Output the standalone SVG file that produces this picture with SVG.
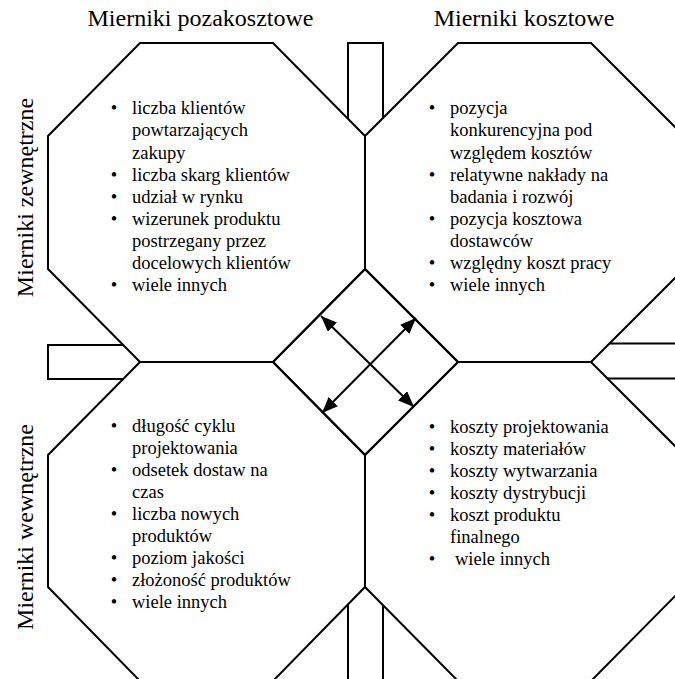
<svg xmlns="http://www.w3.org/2000/svg" width="675" height="679" viewBox="0 0 675 679">
<style>
  .shape { fill: none; stroke: #000; stroke-width: 2; stroke-linejoin: miter; }
  .title { font-family: "Liberation Serif", "Times New Roman", serif; font-size: 24px; fill: #000; text-anchor: middle; }
  .item { font-family: "Liberation Serif", "Times New Roman", serif; font-size: 18.5px; fill: #000; }
  .bul { font-family: "Liberation Serif", "Times New Roman", serif; font-size: 18.5px; fill: #000; text-anchor: middle; }
  .arrow { fill: none; stroke: #000; stroke-width: 2; marker-start: url(#head); marker-end: url(#head); }
</style>
<defs>
  <marker id="head" viewBox="0 0 16 13" refX="16" refY="6.5" markerWidth="16" markerHeight="13" markerUnits="userSpaceOnUse" orient="auto-start-reverse">
    <path d="M0,0 L16,6.5 L0,13 z" fill="#000"/>
  </marker>
</defs>
<rect width="675" height="679" fill="#fff"/>

<text class="title" x="200.5" y="26">Mierniki pozakosztowe</text>
<text class="title" x="524" y="26">Mierniki kosztowe</text>
<text class="title" transform="translate(33,197.5) rotate(-90)">Mierniki zewnętrzne</text>
<text class="title" transform="translate(33,527) rotate(-90)">Mierniki wewnętrzne</text>

<g id="tabs">
  <path class="shape" d="M348,118.8 L348,43 L383,43 L383,118.8"/>
  <path class="shape" d="M123.2,345 L48,345 L48,379 L123.2,379"/>
  <path class="shape" d="M609.5,343.5 L684,343.5 L684,378.5 L607.5,378.5"/>
  <path class="shape" d="M348,604.4 L348,690 M383,605.2 L383,690"/>
</g>

<g id="node-top-left">
  <polygon class="shape" points="140,43 273,43 365,136 365,269 273,362 140,362 48,269 48,136"/>
  <g class="bul">
    <text x="114" y="114.3">•</text>
    <text x="114" y="180.6">•</text>
    <text x="114" y="202.7">•</text>
    <text x="114" y="224.8">•</text>
    <text x="114" y="291.1">•</text>
  </g>
  <g class="item">
    <text x="132" y="114.3">liczba klientów</text>
    <text x="132" y="136.4">powtarzających</text>
    <text x="132" y="158.5">zakupy</text>
    <text x="132" y="180.6">liczba skarg klientów</text>
    <text x="132" y="202.7">udział w rynku</text>
    <text x="132" y="224.8">wizerunek produktu</text>
    <text x="132" y="246.9">postrzegany przez</text>
    <text x="132" y="269">docelowych klientów</text>
    <text x="132" y="291.1">wiele innych</text>
  </g>
</g>

<g id="node-top-right">
  <polygon class="shape" points="458,43 591,43 684,136 684,269 591,362 458,362 365,269 365,136"/>
  <g class="bul">
    <text x="432" y="114.3">•</text>
    <text x="432" y="180.6">•</text>
    <text x="432" y="224.8">•</text>
    <text x="432" y="269">•</text>
    <text x="432" y="291.1">•</text>
  </g>
  <g class="item">
    <text x="450" y="114.3">pozycja</text>
    <text x="450" y="136.4">konkurencyjna pod</text>
    <text x="450" y="158.5">względem kosztów</text>
    <text x="450" y="180.6">relatywne nakłady na</text>
    <text x="450" y="202.7">badania i rozwój</text>
    <text x="450" y="224.8">pozycja kosztowa</text>
    <text x="450" y="246.9">dostawców</text>
    <text x="450" y="269">względny koszt pracy</text>
    <text x="450" y="291.1">wiele innych</text>
  </g>
</g>

<g id="node-bottom-left">
  <polygon class="shape" points="140,362 273,362 365,455 365,587 273,681 140,681 48,587 48,455"/>
  <g class="bul">
    <text x="114" y="431.5">•</text>
    <text x="114" y="475.7">•</text>
    <text x="114" y="519.9">•</text>
    <text x="114" y="564.1">•</text>
    <text x="114" y="586.2">•</text>
    <text x="114" y="608.3">•</text>
  </g>
  <g class="item">
    <text x="132" y="431.5">długość cyklu</text>
    <text x="132" y="453.6">projektowania</text>
    <text x="132" y="475.7">odsetek dostaw na</text>
    <text x="132" y="497.8">czas</text>
    <text x="132" y="519.9">liczba nowych</text>
    <text x="132" y="542">produktów</text>
    <text x="132" y="564.1">poziom jakości</text>
    <text x="132" y="586.2">złożoność produktów</text>
    <text x="132" y="608.3">wiele innych</text>
  </g>
</g>

<g id="node-bottom-right">
  <polygon class="shape" points="458,362 591,362 684,455 684,587 591,681 458,681 365,587 365,455"/>
  <g class="bul">
    <text x="432" y="432.7">•</text>
    <text x="432" y="454.8">•</text>
    <text x="432" y="476.9">•</text>
    <text x="432" y="499">•</text>
    <text x="432" y="521.1">•</text>
    <text x="432" y="565.3">•</text>
  </g>
  <g class="item">
    <text x="450" y="432.7">koszty projektowania</text>
    <text x="450" y="454.8">koszty materiałów</text>
    <text x="450" y="476.9">koszty wytwarzania</text>
    <text x="450" y="499">koszty dystrybucji</text>
    <text x="450" y="521.1">koszt produktu</text>
    <text x="450" y="543.2">finalnego</text>
    <text x="455" y="565.3">wiele innych</text>
  </g>
</g>

<g id="node-center">
  <polygon class="shape" points="365,269 458,362 365,455 273,362"/>
</g>

<g id="connectors">
  <line class="arrow" x1="321" y1="316" x2="414" y2="407"/>
  <line class="arrow" x1="322" y1="413" x2="416" y2="318"/>
</g>
</svg>
